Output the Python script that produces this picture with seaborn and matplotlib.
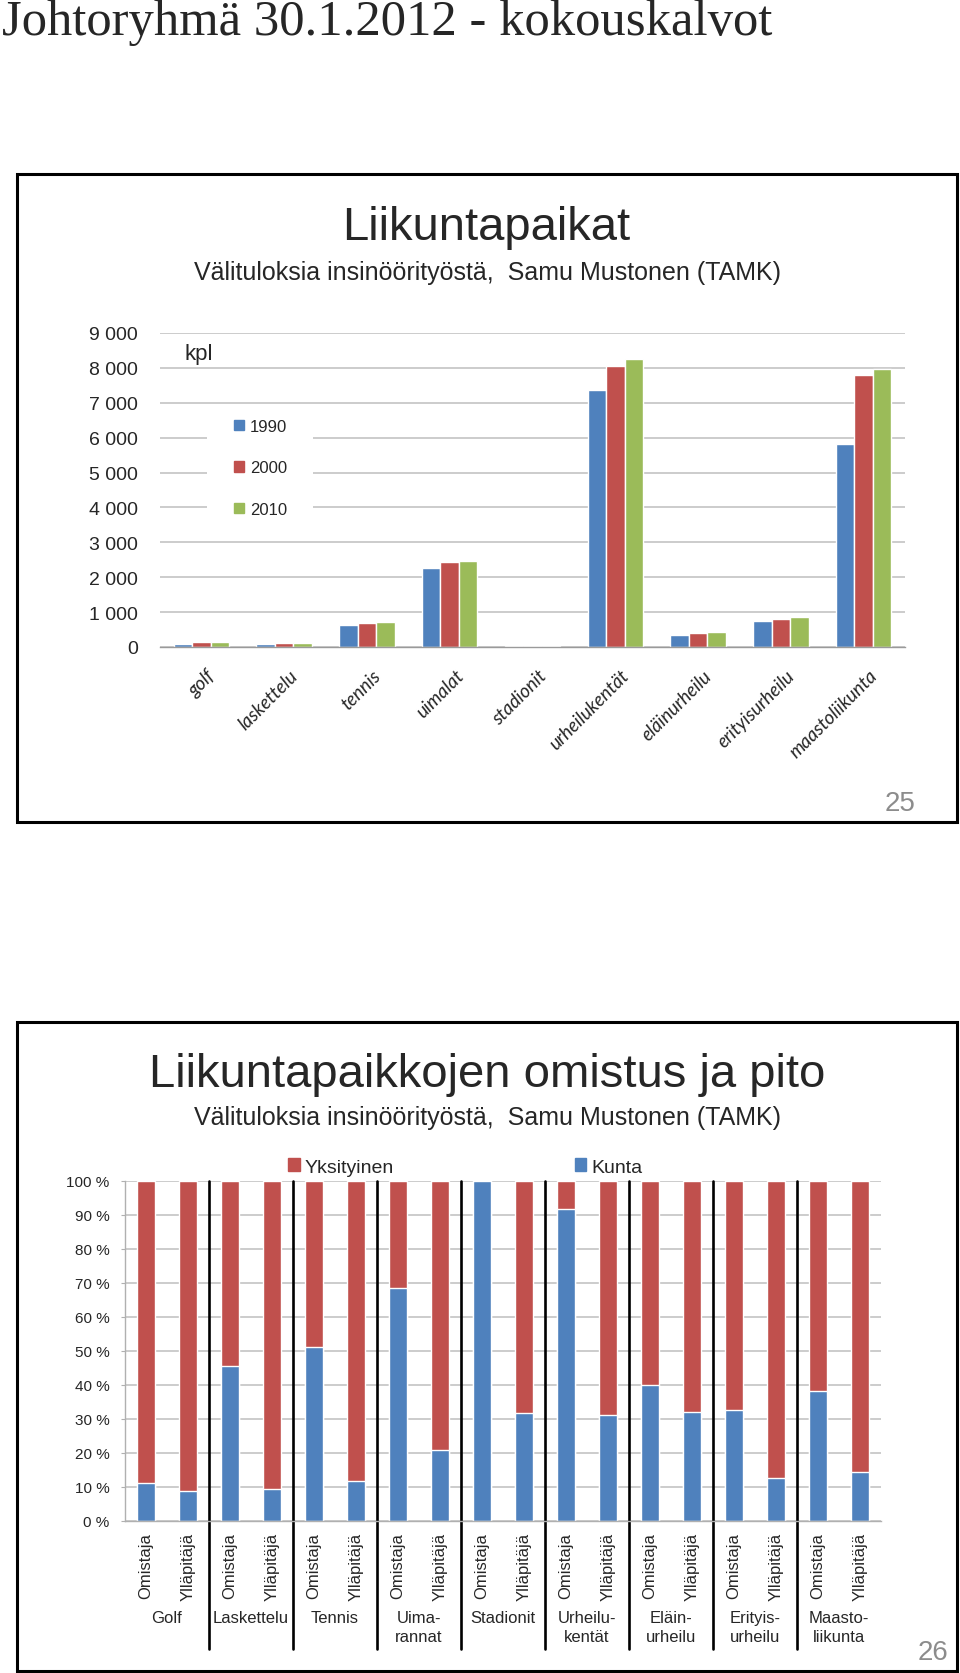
import matplotlib
matplotlib.use("Agg")
import matplotlib.pyplot as plt
import matplotlib.transforms as mtransforms
from matplotlib.patches import Rectangle, Patch
import seaborn as sns
import pandas as pd

# ---------------- data ----------------
header_text = "Johtoryhmä 30.1.2012 - kokouskalvot"
subtitle_text = "Välituloksia insinöörityöstä,  Samu Mustonen (TAMK)"

# Chart 1: Liikuntapaikat (kpl)
lajit = ["golf", "laskettelu", "tennis", "uimalat", "stadionit",
         "urheilukentät", "eläinurheilu", "erityisurheilu", "maastoliikunta"]
vuodet = ["1990", "2000", "2010"]
kpl_1990 = [100, 95, 630, 2270, 20, 7380, 330, 745, 5810]
kpl_2000 = [130, 120, 690, 2450, 20, 8050, 400, 812, 7800]
kpl_2010 = [150, 115, 710, 2470, 15, 8250, 420, 870, 7960]
y1_ticks = [0, 1000, 2000, 3000, 4000, 5000, 6000, 7000, 8000, 9000]

# Chart 2: Liikuntapaikkojen omistus ja pito (%)
ryhmat = ["Golf", "Laskettelu", "Tennis", "Uima-\nrannat", "Stadionit",
          "Urheilu-\nkentät", "Eläin-\nurheilu", "Erityis-\nurheilu", "Maasto-\nliikunta"]
roolit = ["Omistaja", "Ylläpitäjä"]
kunta_pct = [11.3, 8.7, 45.7, 9.5, 51.2, 11.9, 68.5, 20.9, 100.0, 31.9,
             91.8, 31.3, 40.1, 32.0, 32.7, 12.6, 38.1, 14.4]
yksityinen_pct = [round(100 - k, 1) for k in kunta_pct]
y2_ticks = [0, 10, 20, 30, 40, 50, 60, 70, 80, 90, 100]

BLUE, RED, GREEN = "#4F81BD", "#C0504D", "#9BBB59"
GRID = "#c4c4c4"

# ---------------- figure ----------------
sns.set_style("white")
plt.rcParams["font.family"] = ["Liberation Sans", "DejaVu Sans"]

W, H = 960, 1674
fig = plt.figure(figsize=(W / 100, H / 100), dpi=100)
fig.patch.set_facecolor("white")


def fx(px):
    return px / W


def fy(py):
    return 1 - py / H


def rect(l, t, r, b):
    return [l / W, 1 - b / H, (r - l) / W, (b - t) / H]


# header
fig.text(fx(2), fy(35), header_text, family=["Liberation Serif", "DejaVu Serif"],
         size=36.5, va="baseline", ha="left")

# frames
for top, bot in [(175, 823), (1023, 1672)]:
    fig.add_artist(Rectangle((fx(17), fy(bot)), (957 - 17) / W, (bot - top) / H,
                             transform=fig.transFigure, fill=False,
                             edgecolor="black", linewidth=2.2))

# ---------------- chart 1 ----------------
fig.text(fx(486), fy(240), "Liikuntapaikat", size=34, ha="center", va="baseline")
fig.text(fx(487), fy(280), subtitle_text, size=18, ha="center", va="baseline")

df1 = pd.DataFrame({
    "laji": lajit * 3,
    "vuosi": [vuodet[0]] * len(lajit) + [vuodet[1]] * len(lajit) + [vuodet[2]] * len(lajit),
    "kpl": kpl_1990 + kpl_2000 + kpl_2010,
})

ax1 = fig.add_axes(rect(160, 334, 905, 648))
sns.barplot(data=df1, x="laji", y="kpl", hue="vuosi", order=lajit, hue_order=vuodet,
            palette=[BLUE, RED, GREEN], width=0.67, saturation=1, legend=False,
            ax=ax1, errorbar=None)
ax1.set_xlim(-0.5, len(lajit) - 0.5)
ax1.set_ylim(0, 9000)
ax1.set_yticks(y1_ticks, [f"{v:,}".replace(",", " ") for v in y1_ticks])
ax1.set_axisbelow(True)
ax1.yaxis.grid(True, color=GRID, linewidth=1.2)
ax1.set_xlabel("")
ax1.set_ylabel("")
for s in ["top", "right", "left"]:
    ax1.spines[s].set_visible(False)
ax1.spines["bottom"].set_color("#9a9a9a")
ax1.spines["bottom"].set_linewidth(1.0)
ax1.tick_params(axis="y", length=0, pad=16, labelsize=14)
ax1.set_xticks(range(len(lajit)), lajit)
ax1.set_xticks([i - 0.5 for i in range(len(lajit) + 1)], minor=True)
ax1.tick_params(axis="x", which="major", length=0, pad=14)
ax1.tick_params(axis="x", which="minor", length=4, color="#9a9a9a", width=1.0,
                direction="out")
offset = mtransforms.ScaledTranslation(5 / 100, 0, fig.dpi_scale_trans)
for lab in ax1.get_xticklabels():
    lab.set_rotation(45)
    lab.set_ha("right")
    lab.set_va("top")
    lab.set_rotation_mode("anchor")
    lab.set_family(["Lato", "DejaVu Sans"])
    lab.set_style("italic")
    lab.set_fontsize(13.5)
    lab.set_transform(lab.get_transform() + offset)

ax1.text(fx(184), fy(360), "kpl", transform=fig.transFigure, size=16, va="baseline")

# white box behind legend (interrupts gridlines)
ax1.add_patch(Rectangle((fx(207), fy(532)), (313 - 207) / W, (532 - 412) / H,
                        transform=fig.transFigure, facecolor="white",
                        edgecolor="none", zorder=3, clip_on=False))
leg1 = ax1.legend(handles=[Patch(color=c, label=v) for c, v in zip([BLUE, RED, GREEN], vuodet)],
                  loc="upper left", bbox_to_anchor=(fx(234), fy(420)),
                  bbox_transform=fig.transFigure, frameon=False, fontsize=12,
                  handlelength=0.6, handleheight=0.6, handletextpad=0.35,
                  labelspacing=1.58, borderpad=0, borderaxespad=0)
leg1.set_zorder(6)

# ---------------- chart 2 ----------------
fig.text(fx(487), fy(1087), "Liikuntapaikkojen omistus ja pito", size=34,
         ha="center", va="baseline")
fig.text(fx(487), fy(1125), subtitle_text, size=18, ha="center", va="baseline")

bar_ids = [f"{g}|{r}" for g in ryhmat for r in roolit]
total_pct = [k + y for k, y in zip(kunta_pct, yksityinen_pct)]
df2 = pd.DataFrame({"bar": bar_ids, "kunta": kunta_pct, "yhteensa": total_pct})

ax2 = fig.add_axes(rect(125, 1182, 881, 1522))
sns.barplot(data=df2, x="bar", y="yhteensa", order=bar_ids, color=RED, width=0.405,
            saturation=1, ax=ax2, errorbar=None)
sns.barplot(data=df2, x="bar", y="kunta", order=bar_ids, color=BLUE, width=0.405,
            saturation=1, ax=ax2, errorbar=None)
ax2.set_xlim(-0.5, len(bar_ids) - 0.5)
ax2.set_ylim(0, 100)
ax2.set_yticks(y2_ticks, [f"{v} %" for v in y2_ticks])
ax2.set_axisbelow(True)
ax2.yaxis.grid(True, color=GRID, linewidth=1.2)
ax2.set_xlabel("")
ax2.set_ylabel("")
for s in ["top", "right"]:
    ax2.spines[s].set_visible(False)
for s in ["left", "bottom"]:
    ax2.spines[s].set_color("#b0b0b0")
    ax2.spines[s].set_linewidth(1.0)
ax2.tick_params(axis="y", length=3, color="#b0b0b0", pad=8, labelsize=11, left=True)
ax2.set_xticks(range(len(bar_ids)), roolit * len(ryhmat))
ax2.tick_params(axis="x", length=0, pad=8, labelsize=12, labelrotation=90)

blend = mtransforms.blended_transform_factory(ax2.transData, ax2.transAxes)
for i, g in enumerate(ryhmat):
    ax2.text(2 * i + 0.5, -0.262, g, transform=blend, ha="center", va="top",
             size=12, linespacing=1.3)
for i in range(len(ryhmat) - 1):
    ax2.axvline(2 * i + 1.5, ymin=-0.376, ymax=1.0, color="black", linewidth=1.9,
                clip_on=False)

leg2 = ax2.legend(handles=[Patch(color=RED, label="Yksityinen"), Patch(color=BLUE, label="Kunta")],
                  loc="center left", bbox_to_anchor=(fx(288), fy(1168)),
                  bbox_transform=fig.transFigure, frameon=False, ncol=2, fontsize=14,
                  handlelength=0.6, handleheight=0.6, handletextpad=0.25,
                  columnspacing=9.3, borderpad=0, borderaxespad=0)

# page numbers
fig.text(fx(915), fy(811), "25", size=20, color="#8c8c8c", ha="right", va="baseline")
fig.text(fx(948), fy(1660), "26", size=20, color="#8c8c8c", ha="right", va="baseline")

fig.savefig("out.png", dpi=100)
